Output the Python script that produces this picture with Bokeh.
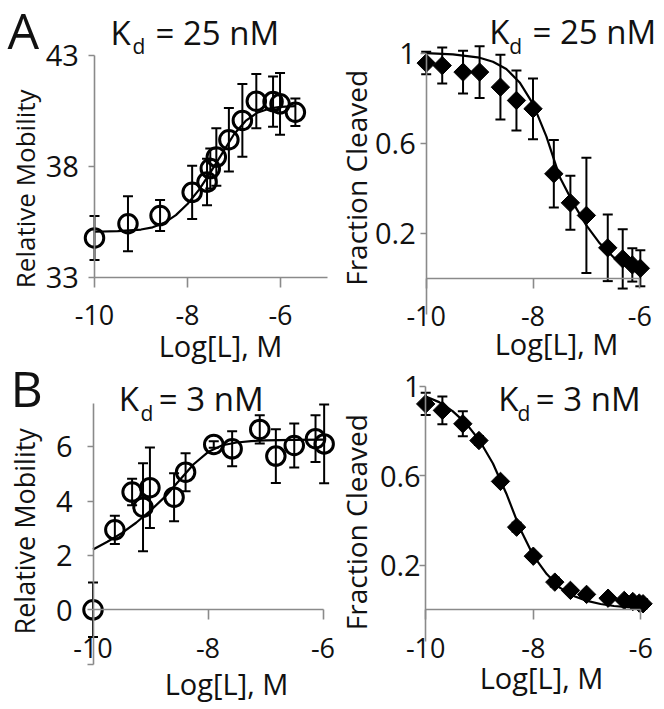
import numpy as np
from bokeh.plotting import figure
from bokeh.models import Range1d, FixedTicker, Whisker, TeeHead, ColumnDataSource, Label
from bokeh.layouts import column, row
from bokeh.embed import file_html
from bokeh.resources import INLINE

FONT = "Open Sans"

# ---------------- data ----------------
# Panel A, left: relative mobility (open circles)
xA1 = [-10.0, -9.28, -8.59, -7.90, -7.58, -7.51, -7.38, -7.11, -6.82, -6.52, -6.16, -6.01, -5.68]
yA1 = [34.77, 35.41, 35.78, 36.83, 37.29, 37.90, 38.42, 39.20, 40.07, 40.94, 40.92, 40.82, 40.44]
eA1 = [0.99, 1.24, 0.70, 1.20, 1.05, 0.90, 1.30, 1.43, 1.64, 1.22, 1.13, 1.39, 0.62]
fitxA1 = [-10, -9.5, -9, -8.75, -8.5, -8.25, -8, -7.75, -7.5, -7.25, -7, -6.75, -6.5, -6.25, -6, -5.68]
fityA1 = [35.05, 35.08, 35.15, 35.25, 35.45, 35.8, 36.3, 36.95, 37.75, 38.6, 39.45, 40.05, 40.42, 40.6, 40.68, 40.72]

# Panel A, right: fraction cleaved (diamonds)
xA2 = [-10.0, -9.70, -9.31, -9.0, -8.61, -8.31, -8.0, -7.61, -7.30, -7.0, -6.60, -6.32, -6.14, -5.99]
yA2 = [0.956, 0.945, 0.916, 0.916, 0.849, 0.790, 0.753, 0.464, 0.335, 0.279, 0.135, 0.086, 0.059, 0.044]
eA2 = [0.05, 0.08, 0.095, 0.115, 0.144, 0.133, 0.135, 0.15, 0.12, 0.256, 0.148, 0.132, 0.074, 0.08]
fitxA2 = [-10, -9.5, -9, -8.75, -8.5, -8.25, -8, -7.75, -7.5, -7.25, -7, -6.75, -6.5, -6.25, -6]
fityA2 = [1.0, 0.995, 0.98, 0.962, 0.93, 0.87, 0.775, 0.63, 0.45, 0.335, 0.235, 0.155, 0.095, 0.055, 0.03]

# Panel B, left: relative mobility (open circles)
xB1 = [-10.0, -9.62, -9.32, -9.13, -9.01, -8.59, -8.39, -7.90, -7.58, -7.10, -6.82, -6.50, -6.13, -5.98]
yB1 = [0.0, 2.94, 4.33, 3.77, 4.49, 4.14, 5.06, 6.08, 5.92, 6.63, 5.65, 6.04, 6.29, 6.10]
eB1 = [1.0, 0.52, 0.49, 1.62, 1.48, 0.88, 0.70, 0.12, 0.64, 0.52, 0.99, 0.81, 0.86, 1.45]
fitxB1 = [-10, -9.75, -9.5, -9.25, -9, -8.75, -8.5, -8.25, -8, -7.75, -7.5, -7.25, -7, -6.5, -6]
fityB1 = [2.22, 2.5, 2.82, 3.2, 3.65, 4.15, 4.75, 5.35, 5.8, 6.05, 6.15, 6.2, 6.23, 6.25, 6.26]

# Panel B, right: fraction cleaved (diamonds)
xB2 = [-10.0, -9.69, -9.31, -9.01, -8.61, -8.31, -8.0, -7.60, -7.31, -7.01, -6.61, -6.31, -6.15, -6.03, -5.96]
yB2 = [0.922, 0.893, 0.833, 0.758, 0.575, 0.370, 0.240, 0.124, 0.087, 0.069, 0.052, 0.042, 0.037, 0.030, 0.027]
eB2 = [0.05, 0.062, 0.056, 0.02, 0.015, 0.02, 0.015, 0.02, 0.015, 0.01, 0.01, 0.01, 0.015, 0.02, 0.02]
fitxB2 = [-10, -9.75, -9.5, -9.25, -9, -8.75, -8.5, -8.25, -8, -7.75, -7.5, -7.25, -7, -6.75, -6.5, -6.25, -6]
fityB2 = [0.955, 0.93, 0.89, 0.835, 0.758, 0.655, 0.52, 0.365, 0.243, 0.16, 0.098, 0.062, 0.04, 0.026, 0.017, 0.012, 0.009]

x_ticks = [-10, -8, -6]
x_tick_labels = ["-10", "-8", "-6"]
ticks_mob_A = [33, 38, 43]
ticks_mob_A_labels = ["33", "38", "43"]
ticks_mob_B = [-2, 0, 2, 4, 6]
ticks_mob_B_labels = ["", "0", "2", "4", "6"]
ticks_frac = [0.2, 0.6, 1.0]
ticks_frac_labels = ["0.2", "0.6", "1"]

AXIS_COLOR = "#8a8a8a"
TEXT_COLOR = "#111111"
BASE_SHIFT = 0.35   # measured offset of the rendered baseline below the label anchor (in em)
DIGIT_HALF = 0.357  # half the digit height of Open Sans (in em)
YTICK_SIZE = 29


class Panel:
    def __init__(self, w, h, xpx0, xval0, xscale, ypx0, yval0, yscale):
        self.w, self.h = w, h
        self.xs = xval0 - xpx0 / xscale
        self.xe = self.xs + w / xscale
        self.ye = yval0 + ypx0 / yscale
        self.ys = self.ye - h / yscale
        self.xscale, self.yscale = xscale, yscale
        self.p = figure(width=w, height=h,
                        x_range=Range1d(self.xs, self.xe), y_range=Range1d(self.ys, self.ye),
                        output_backend="svg", toolbar_location=None, min_border=0,
                        outline_line_color=None)
        self.p.grid.visible = False

    def dx(self, cx):
        return self.xs + cx / self.xscale

    def dy(self, cy):
        return self.ye - cy / self.yscale

    def cy(self, v):
        return (self.ye - v) * self.yscale

    def cx(self, v):
        return (v - self.xs) * self.xscale

    def text(self, cx, base, txt, size, align="left", vertical=False):
        # cx/base: wanted baseline position in canvas pixels
        if vertical:
            ax, ay, ang = base - BASE_SHIFT * size, cx, np.pi / 2
        else:
            ax, ay, ang = cx, base - BASE_SHIFT * size, 0.0
        self.p.add_layout(Label(x=self.dx(ax), y=self.dy(ay), text=txt,
                                text_font=FONT, text_font_size=f"{size}px",
                                text_color=TEXT_COLOR, text_align=align,
                                text_baseline="alphabetic", angle=ang))


def style_axes(pan, xloc, yloc, xb, yb, yticks, ylabels, ygap):
    p = pan.p
    xa, ya = p.xaxis[0], p.yaxis[0]
    xa.fixed_location = xloc
    ya.fixed_location = yloc
    xa.bounds = xb
    ya.bounds = yb
    xa.ticker = FixedTicker(ticks=x_ticks)
    ya.ticker = FixedTicker(ticks=yticks)
    xa.major_label_overrides = {t: s for t, s in zip(x_ticks, x_tick_labels)}
    for ax in (xa, ya):
        ax.axis_line_color = AXIS_COLOR
        ax.axis_line_width = 1.6
        ax.major_tick_line_color = AXIS_COLOR
        ax.major_tick_line_width = 1.6
        ax.major_tick_in = 0
        ax.minor_tick_line_color = None
        ax.major_label_text_font = FONT
        ax.major_label_text_color = TEXT_COLOR
    xa.major_tick_out = 10
    ya.major_tick_out = 6
    xa.major_label_text_font_size = "27px"
    xa.major_label_standoff = 18
    # y tick labels: right-aligned texts next to each tick
    ya.major_label_text_color = None
    right = pan.cx(yloc) - ygap
    for t, s in zip(yticks, ylabels):
        if s:
            pan.text(right, pan.cy(t) + DIGIT_HALF * YTICK_SIZE, s, YTICK_SIZE, align="right")


def errorbars(p, x, y, e):
    src = ColumnDataSource(dict(x=x, upper=[a + b for a, b in zip(y, e)],
                                lower=[a - b for a, b in zip(y, e)]))
    p.add_layout(Whisker(source=src, base="x", upper="upper", lower="lower",
                         dimension="height", line_color="black", line_width=2,
                         upper_head=TeeHead(size=10, line_color="black", line_width=2),
                         lower_head=TeeHead(size=10, line_color="black", line_width=2)))


def circles(p, x, y):
    p.scatter(x, y, marker="circle", size=18.5, fill_color=None,
              line_color="black", line_width=3)


def diamonds(p, x, y):
    p.scatter(x, y, marker="square", angle=np.pi / 4, size=13,
              fill_color="black", line_color="black", line_width=1)


def title(pan, kx, base, sub_dx, rest_dx, rest):
    pan.text(kx, base, "K", 33)
    pan.text(kx + sub_dx, base + 9.7, "d", 21)
    pan.text(kx + rest_dx, base, rest, 33)


# ---------------- Panel A left ----------------
A1 = Panel(338, 364, 94.0, -10, 46.5, 276.7, 33, 22.17)
style_axes(A1, 33, -10, (-10, -5), (33, 43), ticks_mob_A, ticks_mob_A_labels, 15.7)
A1.p.line(fitxA1, fityA1, line_color="black", line_width=2.2, line_join="round")
errorbars(A1.p, xA1, yA1, eA1)
circles(A1.p, xA1, yA1)
A1.text(7, 47, "A", 50)
title(A1, 110, 43.3, 22, 45, "= 25 nM")
A1.text(188.3, 33.3, "Relative Mobility", 26, align="center", vertical=True)
A1.text(220, 355, "Log[L], M", 29, align="center")

# ---------------- Panel A right ----------------
A2 = Panel(326, 364, 87.7, -10, 53.4, 277.7, 0, 225.0)
style_axes(A2, 0, -10, (-10, -6), (-0.16, 1.0), ticks_frac, ticks_frac_labels, 10.4)
A2.p.line(fitxA2, fityA2, line_color="black", line_width=2.2, line_join="round")
errorbars(A2.p, xA2, yA2, eA2)
diamonds(A2.p, xA2, yA2)
title(A2, 150.7, 42.7, 20, 43.3, "= 25 nM")
A2.text(177.3, 27.3, "Fraction Cleaved", 28, align="center", vertical=True)
A2.text(218, 352.7, "Log[L], M", 29, align="center")

# ---------------- Panel B left ----------------
B1 = Panel(338, 345, 92.5, -10, 57.5, 245.3, 0, 27.2)
style_axes(B1, 0, -10, (-10, -6), (-2, 7.6), ticks_mob_B, ticks_mob_B_labels, 20.5)
B1.p.line(fitxB1, fityB1, line_color="black", line_width=2.2, line_join="round")
errorbars(B1.p, xB1, yB1, eB1)
circles(B1.p, xB1, yB1)
B1.text(10, 41, "B", 50)
title(B1, 118.3, 46, 21.7, 40, "= 3 nM")
B1.text(166.8, 33, "Relative Mobility", 27, align="center", vertical=True)
B1.text(226, 329.3, "Log[L], M", 29, align="center")

# ---------------- Panel B right ----------------
B2 = Panel(326, 345, 87.2, -10, 53.8, 245.3, 0, 223.3)
style_axes(B2, 0, -10, (-10, -6), (-0.14, 1.0), ticks_frac, ticks_frac_labels, 5)
B2.p.line(fitxB2, fityB2, line_color="black", line_width=2.2, line_join="round")
errorbars(B2.p, xB2, yB2, eB2)
diamonds(B2.p, xB2, yB2)
title(B2, 159.7, 46, 19.3, 37.6, "= 3 nM")
B2.text(157.7, 27.3, "Fraction Cleaved", 28, align="center", vertical=True)
B2.text(203, 322.7, "Log[L], M", 29, align="center")

layout = column(row(A1.p, A2.p), row(B1.p, B2.p))
open("out.html", "w").write(file_html(layout, INLINE))
